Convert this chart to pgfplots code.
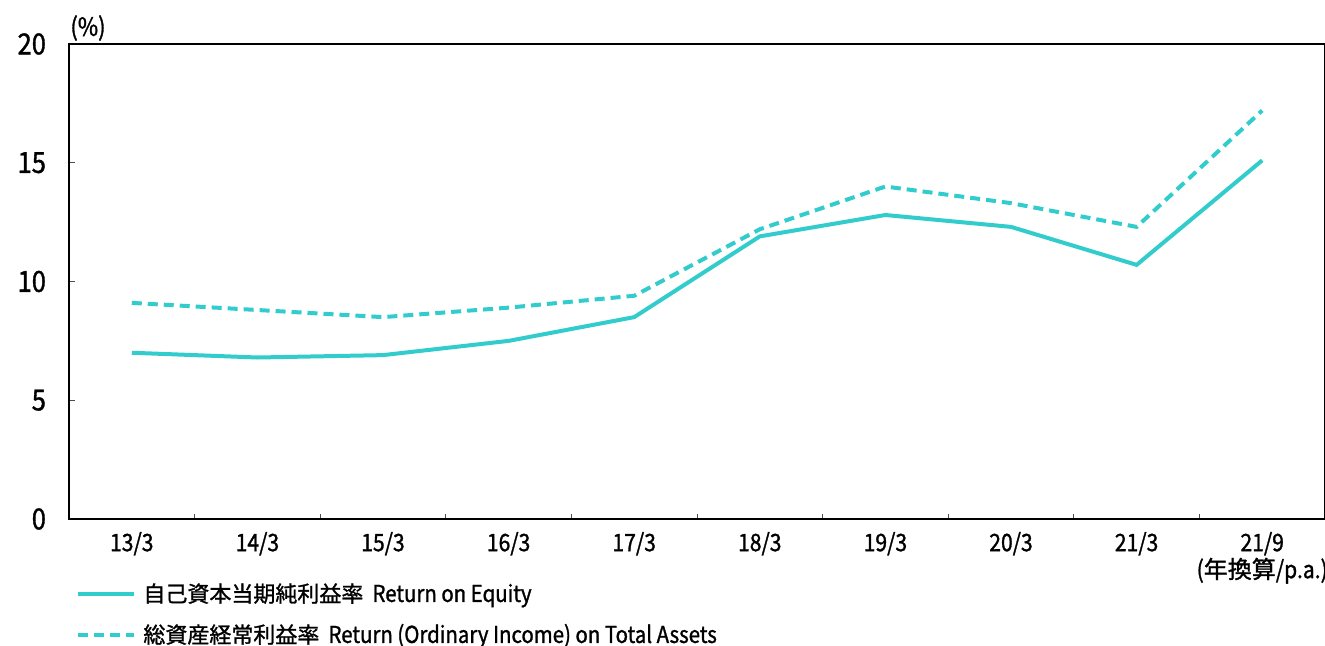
\documentclass[border=0pt]{standalone}
\usepackage{fontspec}
\usepackage{pgfplots}
\pgfplotsset{compat=1.18}
\setmainfont{Noto Sans CJK JP}[FakeStretch=0.88, FakeBold=1.2]
\newfontfamily\jp{Noto Sans CJK JP}[FakeBold=1.2]
\definecolor{tq}{RGB}{51,204,204}
\begin{document}
\begin{tikzpicture}
\begin{axis}[
  name=ax, scale only axis, width=628pt, height=237.5pt,
  xmin=-0.5, xmax=9.5, ymin=0, ymax=20,
  clip=false,
  axis line style={black, line width=0.6pt},
  xtick={0,...,9},
  xticklabels={13/3,14/3,15/3,16/3,17/3,18/3,19/3,20/3,21/3,{21/9\\({\jp 年換算}/p.a.)}},
  minor xtick={0.5,1.5,...,8.5},
  xtick pos=bottom, ytick pos=left,
  major x tick style={draw=none},
  minor x tick style={black!70, line width=0.5pt},
  minor tick length=2.5pt,
  ytick={0,5,10,15,20},
  ytick style={black!70, line width=0.6pt},
  major tick length=3pt,
  tick align=inside,
  /pgf/number format/assume math mode=true,
  xticklabel style={align=center, font=\fontsize{12}{13.5}\selectfont, yshift=-3pt},
  yticklabel style={font=\fontsize{14.5}{16}\selectfont, xshift=-8pt},
  legend style={at={(0,0)}, anchor=north west, xshift=3.5pt, yshift=-30pt, draw=none, fill=none,
    font=\fontsize{11.6}{13}\selectfont, row sep=5.5pt, inner sep=0pt},
  legend cell align=left,
  legend image code/.code={\draw[#1] (0pt,0pt) -- (28pt,0pt);},
]
\addplot[color=tq, line width=2pt] coordinates {
(0,7.0) (1,6.8) (2,6.9) (3,7.5) (4,8.5) (5,11.9) (6,12.8) (7,12.3) (8,10.7) (9,15.1)};
\addlegendentry{\hspace{1.5pt}{\jp\fontsize{11}{13}\selectfont 自己資本当期純利益率}\ \ Return on Equity}
\addplot[color=tq, line width=2pt, dash pattern=on 5pt off 3pt] coordinates {
(0,9.1) (1,8.8) (2,8.5) (3,8.9) (4,9.4) (5,12.2) (6,14.0) (7,13.3) (8,12.3) (9,17.2)};
\addlegendentry{\hspace{1.5pt}{\jp\fontsize{11}{13}\selectfont 総資産経常利益率}\ \ Return (Ordinary Income) on Total Assets}
\node[font=\fontsize{12.5}{14}\selectfont] at ([xshift=9.5pt,yshift=8pt]rel axis cs:0,1) {(\%)};
\end{axis}
\pgfresetboundingbox
\path ([xshift=-34.5pt,yshift=-63pt]ax.south west) rectangle ([yshift=22pt]ax.north east);
\end{tikzpicture}
\end{document}
